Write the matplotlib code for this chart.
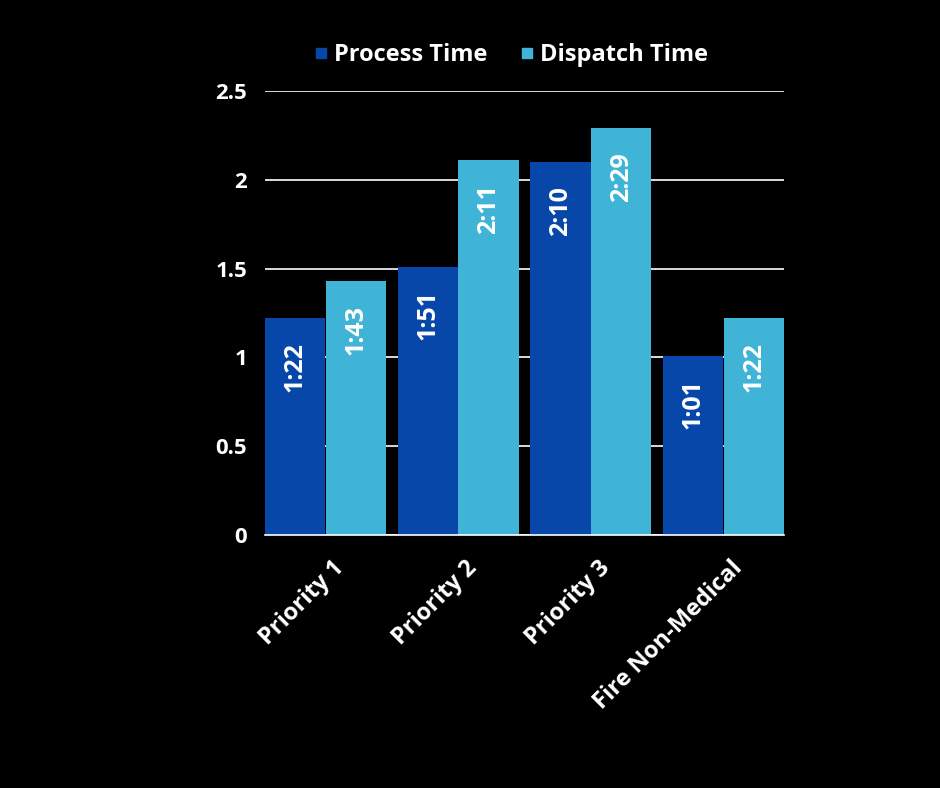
import matplotlib
matplotlib.use("Agg")
import matplotlib.pyplot as plt
from matplotlib.lines import Line2D
import matplotlib.transforms as mtransforms
import numpy as np

categories = ["Priority 1", "Priority 2", "Priority 3", "Fire Non-Medical"]
process_vals = [1.22, 1.51, 2.10, 1.01]
dispatch_vals = [1.43, 2.11, 2.29, 1.22]
process_labels = ["1:22", "1:51", "2:10", "1:01"]
dispatch_labels = ["1:43", "2:11", "2:29", "1:22"]
series_names = ["Process Time", "Dispatch Time"]
yticks = [0, 0.5, 1, 1.5, 2, 2.5]
ytick_labels = ["0", "0.5", "1", "1.5", "2", "2.5"]

c_proc = "#0747AA"
c_disp = "#40B4D6"

plt.rcParams['font.family'] = ['Open Sans', 'DejaVu Sans']

fig = plt.figure(figsize=(9.4, 7.88), dpi=100, facecolor="black")
ax = fig.add_axes([265/940, 1-535/788, (784-265)/940, (535-91)/788])
ax.set_facecolor("black")

x = np.arange(len(categories))
w = 0.453
b1 = ax.bar(x - w/2 - 0.002, process_vals, w, color=c_proc, zorder=3, linewidth=0)
b2 = ax.bar(x + w/2 + 0.002, dispatch_vals, w, color=c_disp, zorder=3, linewidth=0)

for bars, labs in ((b1, process_labels), (b2, dispatch_labels)):
    for rect, lab in zip(bars, labs):
        ax.annotate(lab, (rect.get_x() + rect.get_width()/2, rect.get_height()),
                    xytext=(0, -17), textcoords="offset points", rotation=90,
                    ha="center", va="top", color="white", fontsize=18,
                    fontweight="bold", zorder=5)

ax.set_xlim(x[0] - w - 0.004, x[-1] + w + 0.004)
ax.set_ylim(0, 2.5)
ax.set_yticks(yticks)
ax.set_yticklabels(ytick_labels)
ax.yaxis.grid(True, color="white", linewidth=1.2, zorder=0)
ax.set_axisbelow(True)
for s in ["top", "right", "left"]:
    ax.spines[s].set_visible(False)
ax.spines["bottom"].set_color("white")
ax.spines["bottom"].set_linewidth(1.2)
ax.spines["bottom"].set_zorder(4)
ax.tick_params(axis="y", length=0, pad=13, labelcolor="white", labelsize=16)
ax.tick_params(axis="x", length=0, pad=15, labelcolor="white", labelsize=17)
for t in ax.get_yticklabels():
    t.set_fontweight("bold")
ax.set_xticks(x)
ax.set_xticklabels(categories, rotation=45, ha="right", rotation_mode="anchor",
                   fontweight="bold")
for t in ax.get_xticklabels():
    t.set_transform(t.get_transform() + mtransforms.ScaledTranslation(7/100, 0, fig.dpi_scale_trans))

handles = [Line2D([], [], marker="s", linestyle="none", markersize=7, color=c_proc),
           Line2D([], [], marker="s", linestyle="none", markersize=7, color=c_disp)]
leg = fig.legend(handles, series_names, loc="center", bbox_to_anchor=(510/940, 1-55/788),
                 ncol=2, frameon=False, handletextpad=0.15, columnspacing=1.3,
                 prop={"family": "Open Sans", "weight": "bold", "size": 17},
                 handlelength=0.8)
for t in leg.get_texts():
    t.set_color("white")

fig.savefig("out.png", dpi=100, facecolor="black")
